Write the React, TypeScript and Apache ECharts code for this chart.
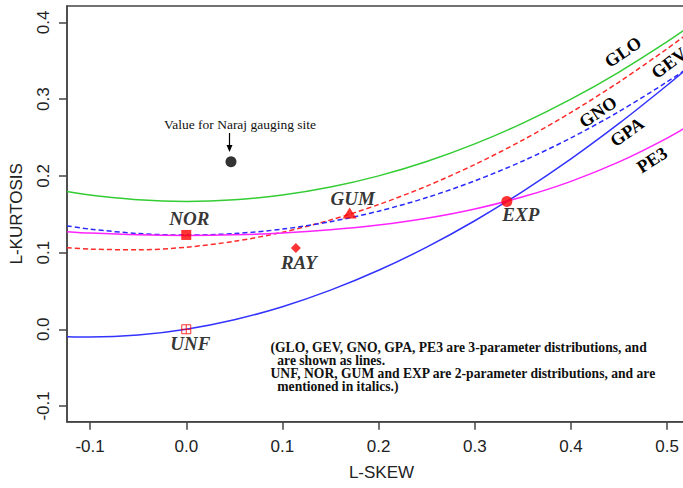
import React, { useEffect, useRef } from "react";
import * as echarts from "echarts";

// L-skewness sample positions and L-kurtosis read for each theoretical curve
const skewGrid = [-0.124, -0.1, -0.05, 0, 0.05, 0.1, 0.15, 0.2, 0.25, 0.3, 0.35, 0.4, 0.45, 0.5, 0.53];
const gloKurt = [0.1795, 0.175, 0.1688, 0.1667, 0.1688, 0.175, 0.1854, 0.2, 0.2188, 0.2417, 0.2688, 0.3, 0.3354, 0.375, 0.4008];
const gevKurt = [0.1064, 0.1045, 0.1036, 0.107, 0.1147, 0.1265, 0.1425, 0.1626, 0.1867, 0.2148, 0.2468, 0.2827, 0.3224, 0.3658, 0.3937];
const gnoKurt = [0.1348, 0.1306, 0.1248, 0.1228, 0.1248, 0.1306, 0.1403, 0.154, 0.1717, 0.1935, 0.2194, 0.2495, 0.2839, 0.3226, 0.3479];
const gpaKurt = [-0.0097, -0.0102, -0.0076, 0, 0.0124, 0.0294, 0.051, 0.0769, 0.1071, 0.1415, 0.1799, 0.2222, 0.2684, 0.3182, 0.3498];
const pe3Kurt = [0.1273, 0.1255, 0.1232, 0.1224, 0.1232, 0.1255, 0.1297, 0.1359, 0.1448, 0.1569, 0.1727, 0.1929, 0.2182, 0.2493, 0.2711];

// two-parameter distributions (points)
const pointNames = ["UNF", "NOR", "GUM", "EXP", "RAY"];
const pointSkew = [0, 0, 0.1699, 0.3333, 0.114];
const pointKurt = [0, 0.123, 0.1515, 0.1667, 0.106];

// observed site
const siteSkew = [0.0465];
const siteKurt = [0.2185];

// tick labels
const xTicks = [-0.1, 0, 0.1, 0.2, 0.3, 0.4, 0.5];
const yTicks = [-0.1, 0, 0.1, 0.2, 0.3, 0.4];

const noteLines = [
  "(GLO, GEV, GNO, GPA, PE3 are 3-parameter distributions, and",
  "  are shown as lines.",
  "UNF, NOR, GUM and EXP are 2-parameter distributions, and are",
  "  mentioned in italics.)",
];

const pair = (xs: number[], ys: number[]) => xs.map((x, i) => [x, ys[i]]);

const pointStyles: Record<string, any> = {
  UNF: {
    symbol: "path://M0,0 L10,0 L10,10 L0,10 Z M5,0 L5,10 M0,5 L10,5",
    symbolSize: 9,
    itemStyle: { color: "none", borderColor: "#ff0000", borderWidth: 1 },
    offset: [4, 14],
  },
  NOR: { symbol: "rect", symbolSize: 10, itemStyle: { color: "#ff0000" }, offset: [3, -16] },
  GUM: { symbol: "triangle", symbolSize: [14, 11], itemStyle: { color: "#ff0000" }, offset: [3, -15] },
  EXP: { symbol: "circle", symbolSize: 11, itemStyle: { color: "#ff0000" }, offset: [14, 13] },
  RAY: { symbol: "diamond", symbolSize: 10, itemStyle: { color: "#ff0000" }, offset: [3, 15] },
};

const curveLabels = [
  { text: "GLO", x: 623, y: 52, rot: 34 },
  { text: "GEV", x: 669, y: 63, rot: 37 },
  { text: "GNO", x: 598, y: 112, rot: 34 },
  { text: "GPA", x: 627, y: 132, rot: 35 },
  { text: "PE3", x: 652, y: 160, rot: 33 },
];

export default function App() {
  const ref = useRef<HTMLDivElement>(null);
  useEffect(() => {
    if (!ref.current) return;
    document.documentElement.style.overflow = "hidden";
    document.body.style.overflow = "hidden";
    const chart = echarts.init(ref.current, null, { renderer: "svg" });
    const lineSeries = (name: string, ys: number[], color: string, dashed: boolean) => ({
      name,
      type: "line",
      data: pair(skewGrid, ys),
      smooth: 0.3,
      symbol: "none",
      lineStyle: { color, width: 1.5, type: dashed ? [5, 3] : "solid" },
      z: 2,
    });
    const pointData = pointNames.map((n, i) => {
      const st = pointStyles[n];
      return {
        name: n,
        value: [pointSkew[i], pointKurt[i]],
        symbol: st.symbol,
        symbolSize: st.symbolSize,
        itemStyle: st.itemStyle,
        label: {
          show: true,
          position: "inside",
          offset: st.offset,
          formatter: n,
          fontFamily: "Liberation Serif",
          fontStyle: "italic",
          fontWeight: "bold",
          fontSize: 19,
          color: "#000",
          textBorderWidth: 0,
          textBorderColor: "transparent",
        },
      };
    });
    const axisFont = { fontFamily: "Liberation Sans", fontSize: 17, color: "#222" };
    chart.setOption({
      animation: false,
      backgroundColor: "#ffffff",
      grid: {
        left: 66.7,
        right: 0,
        top: 6,
        bottom: 66.3,
        show: true,
        borderColor: "#444",
        borderWidth: 1.5,
        containLabel: false,
      },
      xAxis: {
        type: "value",
        min: -0.124,
        max: 0.53,
        name: "L-SKEW",
        nameLocation: "middle",
        nameGap: 42,
        nameTextStyle: axisFont,
        axisLine: { show: true, onZero: false, lineStyle: { color: "#444", width: 1.5 } },
        axisTick: { show: true, length: 8, customValues: xTicks, lineStyle: { color: "#444", width: 1.5 } },
        axisLabel: { ...axisFont, margin: 16, customValues: xTicks, formatter: (v: number) => v.toFixed(1) },
        splitLine: { show: false },
      },
      yAxis: {
        type: "value",
        min: -0.1205,
        max: 0.4215,
        name: "L-KURTOSIS",
        nameLocation: "middle",
        nameGap: 42,
        nameRotate: 90,
        nameTextStyle: axisFont,
        axisLine: { show: true, onZero: false, lineStyle: { color: "#444", width: 1.5 } },
        axisTick: { show: true, length: 8, customValues: yTicks, lineStyle: { color: "#444", width: 1.5 } },
        axisLabel: { ...axisFont, margin: 15, rotate: 90, customValues: yTicks, formatter: (v: number) => v.toFixed(1) },
        splitLine: { show: false },
      },
      series: [
        lineSeries("GLO", gloKurt, "#33cc33", false),
        lineSeries("GEV", gevKurt, "#ff2a2a", true),
        lineSeries("GNO", gnoKurt, "#2a2aff", true),
        lineSeries("GPA", gpaKurt, "#3333ff", false),
        lineSeries("PE3", pe3Kurt, "#ff22ff", false),
        {
          name: "2-parameter",
          type: "scatter",
          data: pointData,
          z: 5,
        },
        {
          name: "Naraj",
          type: "scatter",
          data: pair(siteSkew, siteKurt),
          symbol: "circle",
          symbolSize: 11,
          itemStyle: { color: "#000" },
          z: 5,
        },
      ],
      graphic: [
        ...curveLabels.map((c) => ({
          type: "text",
          x: c.x,
          y: c.y,
          rotation: (c.rot * Math.PI) / 180,
          style: {
            text: c.text,
            fontFamily: "Liberation Serif",
            fontWeight: "bold",
            fontSize: 18,
            fill: "#000",
            textAlign: "center",
            textVerticalAlign: "middle",
          },
          z: 10,
        })),
        {
          type: "text",
          x: 240,
          y: 124,
          style: {
            text: "Value for Naraj gauging site",
            fontFamily: "Liberation Serif",
            fontSize: 13.5,
            fill: "#111",
            textAlign: "center",
            textVerticalAlign: "middle",
          },
        },
        {
          type: "line",
          shape: { x1: 229.5, y1: 133, x2: 229.5, y2: 148 },
          style: { stroke: "#000", lineWidth: 1.2 },
        },
        {
          type: "polygon",
          shape: { points: [[226.5, 145], [232.5, 145], [229.5, 152]] },
          style: { fill: "#000" },
        },
        {
          type: "text",
          x: 270.5,
          y: 341,
          style: {
            text: noteLines.join("\n"),
            fontFamily: "Liberation Serif",
            fontWeight: "bold",
            fontSize: 13.6,
            lineHeight: 13.1,
            fill: "#111",
            textAlign: "left",
            textVerticalAlign: "top",
          },
        },
      ],
    });
    return () => chart.dispose();
  }, []);
  return (
    <div
      ref={ref}
      style={{ position: "fixed", left: 0, top: 0, width: 696, height: 488 }}
    />
  );
}
